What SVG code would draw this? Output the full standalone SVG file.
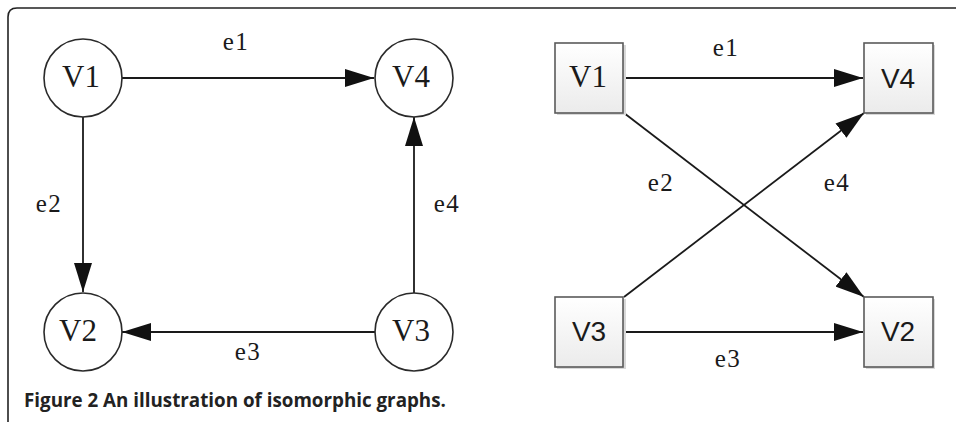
<svg xmlns="http://www.w3.org/2000/svg" width="956" height="422" viewBox="0 0 956 422">
  <defs>
    <marker id="arr" markerWidth="29" markerHeight="18" refX="29" refY="9" orient="auto" markerUnits="userSpaceOnUse">
      <path d="M0,0 L29,9 L0,18 z" fill="#111"/>
    </marker>
    <linearGradient id="boxfill" x1="0" y1="0" x2="0" y2="1">
      <stop offset="0" stop-color="#ffffff"/>
      <stop offset="1" stop-color="#ebebeb"/>
    </linearGradient>
    <style>
      .frame { fill: none; stroke: #222; stroke-width: 1.6; }
      .circ { fill: #fff; stroke: #2a2a2a; stroke-width: 1.6; }
      .box { fill: url(#boxfill); stroke: #5a5a5a; stroke-width: 1.6; }
      .shadow { fill: #d8d8d8; }
      .edge { fill: none; stroke: #1a1a1a; stroke-width: 1.8; marker-end: url(#arr); }
      .serif { font-family: "Liberation Serif", "Times New Roman", serif; fill: #1a1a1a; }
      .sans { font-family: "Liberation Sans", Arial, sans-serif; fill: #1a1a1a; }
      .nlab { font-size: 31px; text-anchor: middle; }
      .slab { font-size: 28px; text-anchor: middle; }
      .elab { font-size: 25px; text-anchor: middle; letter-spacing: 1.5px; }
      .cap { font-family: "Open Sans", "Noto Sans", sans-serif; font-size: 18.8px; font-weight: bold; fill: #222; }
    </style>
  </defs>
  <rect width="956" height="422" fill="#fff"/>
  <path class="frame" d="M18,432 Q8,432 8,422 L8,17 Q8,8 17,8 L956,8"/>

  <g id="connectors">
    <!-- left graph -->
    <line class="edge" x1="121" y1="78" x2="374" y2="78"/>
    <line class="edge" x1="83" y1="117" x2="83" y2="292"/>
    <line class="edge" x1="376" y1="332" x2="122" y2="332"/>
    <line class="edge" x1="414" y1="293" x2="414" y2="117"/>
    <text class="serif elab" x="236" y="50">e1</text>
    <text class="serif elab" x="49" y="212">e2</text>
    <text class="serif elab" x="248" y="360">e3</text>
    <text class="serif elab" x="447" y="212">e4</text>
    <!-- right graph -->
    <line class="edge" x1="624" y1="78" x2="863" y2="78"/>
    <line class="edge" x1="624" y1="113" x2="864" y2="297"/>
    <line class="edge" x1="624" y1="297" x2="864" y2="113"/>
    <line class="edge" x1="624" y1="332" x2="863" y2="332"/>
    <text class="serif elab" x="726" y="56">e1</text>
    <text class="serif elab" x="661" y="191">e2</text>
    <text class="serif elab" x="728" y="367">e3</text>
    <text class="serif elab" x="837" y="191">e4</text>
  </g>

  <g id="L_V1"><circle class="circ" cx="83" cy="78" r="39"/><text class="serif nlab" x="81" y="87">V1</text></g>
  <g id="L_V4"><circle class="circ" cx="414" cy="78" r="39"/><text class="serif nlab" x="411" y="87">V4</text></g>
  <g id="L_V2"><circle class="circ" cx="83" cy="332" r="39"/><text class="serif nlab" x="78" y="341">V2</text></g>
  <g id="L_V3"><circle class="circ" cx="414" cy="332" r="39"/><text class="serif nlab" x="411" y="341">V3</text></g>

  <g id="R_V1"><rect class="shadow" x="557" y="45" width="69" height="70"/><rect class="box" x="555" y="43" width="68" height="70"/><text class="serif nlab" x="588" y="87">V1</text></g>
  <g id="R_V4"><rect class="shadow" x="866" y="45" width="69" height="70"/><rect class="box" x="864" y="43" width="69" height="70"/><text class="sans slab" x="898" y="88">V4</text></g>
  <g id="R_V3"><rect class="shadow" x="557" y="299" width="69" height="70"/><rect class="box" x="555" y="297" width="68" height="70"/><text class="sans slab" x="589" y="341">V3</text></g>
  <g id="R_V2"><rect class="shadow" x="866" y="299" width="69" height="70"/><rect class="box" x="864" y="297" width="69" height="70"/><text class="sans slab" x="898" y="341">V2</text></g>

  <text class="cap" x="24" y="407">Figure 2 An illustration of isomorphic graphs.</text>
</svg>
